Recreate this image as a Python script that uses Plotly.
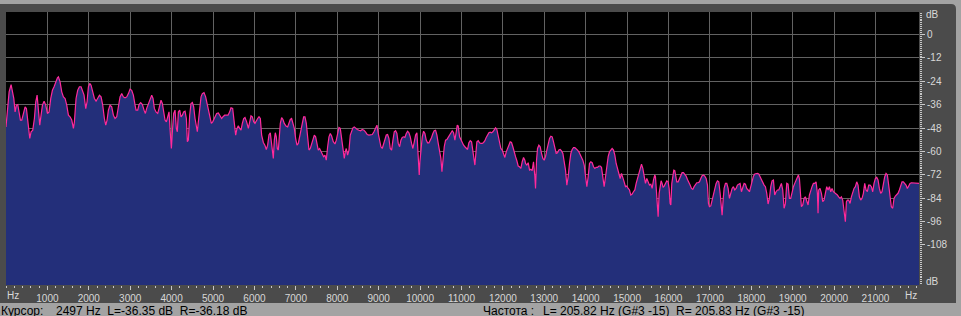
import plotly.graph_objects as go

# ---- data (frequency in Hz, level in dB) ----
FREQ_HZ = [
    0, 43, 75, 123, 155, 188, 220, 252, 284, 316, 348, 381, 421, 461, 493, 526, 558, 574, 606, 646,
    686, 719, 751, 783, 815, 847, 880, 920, 960, 1000, 1040, 1081, 1121, 1161, 1201, 1242, 1266, 1306, 1346, 1387,
    1427, 1467, 1507, 1547, 1588, 1628, 1652, 1692, 1732, 1773, 1813, 1853, 1885, 1926, 1958, 1990, 2022, 2054, 2095, 2135,
    2175, 2215, 2256, 2296, 2336, 2376, 2409, 2441, 2473, 2513, 2553, 2594, 2634, 2674, 2714, 2754, 2795, 2835, 2875, 2915,
    2956, 2996, 3036, 3076, 3117,
    3141, 3181, 3213, 3253, 3294, 3334, 3366, 3398, 3438, 3479, 3519, 3551, 3583, 3623, 3664, 3696, 3744, 3776, 3800, 3841,
    3873, 3905, 3937, 3969, 3994, 4018, 4050, 4082, 4114, 4138, 4163, 4195, 4227, 4259, 4291, 4324, 4356, 4380, 4404, 4436,
    4468, 4501, 4533, 4565, 4597, 4621, 4645, 4678, 4710, 4742, 4782, 4822, 4855, 4887, 4927, 4959, 4991, 5024, 5056, 5088,
    5128, 5169, 5209, 5241, 5281, 5321, 5362, 5402, 5434, 5474, 5515, 5547, 5579, 5611, 5643, 5676, 5708, 5740, 5772, 5812,
    5853, 5885, 5917, 5949, 5981, 6013, 6046, 6078, 6110, 6142, 6174, 6215, 6255,
    6287, 6319, 6351, 6383, 6408, 6432, 6456, 6480, 6504, 6528, 6552, 6577, 6601, 6625, 6657, 6689, 6721, 6762, 6802, 6834,
    6866, 6898, 6931, 6963, 6995, 7027, 7059, 7092, 7124, 7156, 7188, 7220, 7253, 7285, 7317, 7349, 7381, 7414, 7446, 7478,
    7510, 7542, 7574, 7607, 7639, 7671, 7703, 7735, 7768, 7800, 7832, 7864, 7904, 7945, 7977, 8009, 8041, 8073, 8105, 8138,
    8170, 8194, 8218, 8250, 8283, 8315, 8347, 8379, 8411, 8444, 8484, 8524, 8564, 8604, 8645, 8685, 8725, 8765, 8806, 8846,
    8886, 8926, 8959, 8991, 9023, 9055, 9087, 9119, 9152, 9184, 9216, 9248, 9280, 9313, 9345, 9377,
    9409, 9441, 9473, 9506, 9538, 9570, 9602, 9634, 9667, 9699, 9731, 9763, 9795, 9827, 9860, 9892, 9924, 9948, 9964, 9980,
    9996, 10021, 10053, 10085, 10117, 10149, 10182, 10214, 10246, 10278, 10310, 10342, 10375, 10407, 10439, 10471, 10503, 10528, 10552, 10584,
    10616, 10648, 10680, 10713, 10745, 10777, 10809, 10841, 10874, 10898, 10922, 10954, 10986, 11018, 11051, 11083, 11115, 11147, 11179, 11212,
    11244, 11276, 11300, 11324, 11348, 11372, 11405, 11437, 11469, 11501, 11533, 11566, 11598, 11630, 11662, 11694, 11726, 11759, 11791, 11823,
    11855, 11887, 11920, 11952, 11984, 12016, 12048, 12081, 12113, 12145, 12177, 12209, 12241, 12274, 12306, 12338, 12370, 12402, 12435, 12467,
    12499, 12531,
    12547, 12579, 12612, 12644, 12676, 12708, 12740, 12773, 12789, 12813, 12837, 12869, 12901, 12933, 12966, 12998, 13030, 13062, 13094, 13127,
    13159, 13191, 13223, 13255, 13288, 13320, 13352, 13384, 13416, 13449, 13481, 13513, 13545, 13577, 13609, 13642, 13674, 13706, 13738, 13770,
    13803, 13835, 13867, 13899, 13931, 13964, 13996, 14028, 14060, 14092, 14124, 14157, 14189, 14221, 14253, 14285, 14318, 14350, 14382, 14414,
    14446, 14479, 14511, 14543, 14575, 14607, 14639, 14672, 14704, 14736, 14768, 14800, 14833, 14865, 14897, 14929, 14961, 14994, 15026, 15058,
    15090, 15122, 15154, 15187, 15219, 15251, 15283, 15315, 15348, 15380, 15412, 15444, 15476, 15508, 15541, 15573, 15605, 15637, 15669,
    15685, 15710, 15734, 15750, 15774, 15798, 15822, 15846, 15870, 15895, 15927, 15959, 15991, 16015, 16039, 16056, 16080, 16104, 16128, 16152,
    16176, 16200, 16233, 16265, 16297, 16329, 16361, 16394, 16426, 16458, 16490, 16522, 16555, 16587, 16619, 16651, 16683, 16715, 16748, 16780,
    16812, 16844, 16876, 16909, 16941, 16965, 16989, 17021, 17053, 17086, 17118, 17150, 17182, 17214, 17247, 17271, 17295, 17319, 17343, 17375,
    17408, 17440, 17472, 17504, 17536, 17568, 17601, 17633, 17665, 17697, 17729, 17762, 17794, 17826, 17858, 17890, 17923, 17955, 17987, 18019,
    18051, 18084, 18116, 18148, 18180, 18212, 18244, 18277, 18309, 18341, 18373, 18405, 18437, 18470, 18502, 18534, 18566, 18598, 18631, 18663,
    18695, 18727, 18759, 18792, 18824, 18856, 18888, 18920,
    18952, 18985, 19017, 19049, 19081, 19113, 19137, 19162, 19186, 19210, 19242, 19274, 19306, 19339, 19371, 19403, 19435, 19467, 19500, 19532,
    19564, 19596, 19612, 19628, 19660, 19693, 19725, 19757, 19789, 19821, 19854, 19886, 19918, 19950, 19982, 20015, 20047, 20079, 20111, 20143,
    20175, 20208, 20232, 20256, 20272, 20296, 20320, 20353, 20385, 20417, 20449, 20481, 20513, 20546, 20578, 20610, 20642, 20674, 20707, 20739,
    20771, 20803, 20835, 20868, 20900, 20932, 20964, 20996, 21028, 21061, 21093, 21125, 21157, 21189, 21222, 21254, 21286, 21318, 21350, 21382,
    21415, 21447, 21479, 21511, 21543, 21576, 21608, 21640, 21672, 21704, 21737, 21769, 21801, 21833, 21865, 21898, 21930, 21962, 21994, 22026,
    22050,
]

LEVEL_DB = [
    -47.4, -37.1, -29.4, -25.7, -28.6, -32.8, -39.7, -36.2, -35.9, -40.5, -43.9, -43.9, -39.7, -37.1, -38.0, -43.1, -49.9, -53.3, -49.9, -49.1,
    -43.1, -34.5, -31.1, -37.1, -46.5, -41.4, -36.2, -34.2, -36.2, -40.5, -39.7, -32.8, -28.6, -26.8, -24.3, -22.2, -21.7, -24.3, -29.4, -32.0,
    -32.8, -36.2, -41.4, -42.2, -43.9, -48.2, -44.8, -32.8, -28.6, -26.8, -26.8, -29.4, -31.1, -38.0, -34.5, -26.8, -25.1, -26.0, -29.4, -32.8,
    -34.2, -32.8, -31.1, -32.0, -36.2, -43.1, -46.5, -43.9, -38.8, -36.2, -37.1, -41.4, -43.1, -42.2, -37.1, -32.0, -30.3, -32.0, -32.5, -32.0,
    -30.3, -28.0, -28.6, -31.1, -36.2,
    -38.8, -38.8, -35.9, -34.9, -35.9, -38.8, -40.5, -37.9, -35.4, -32.5, -31.1, -32.8, -37.9, -39.7, -40.5, -37.9, -33.7, -35.4, -38.8, -43.9,
    -44.8, -42.2, -39.7, -50.8, -58.5, -49.9, -40.5, -38.8, -48.2, -49.9, -39.7, -38.8, -42.2, -41.4, -39.7, -39.3, -43.1, -55.0, -54.2, -41.4,
    -35.4, -34.9, -37.1, -43.1, -46.5, -49.9, -44.8, -39.7, -32.0, -30.3, -29.8, -32.0, -35.4, -39.7, -43.9, -45.6, -44.8, -43.1, -41.4, -40.5,
    -40.2, -41.4, -43.1, -42.2, -41.4, -41.4, -41.4, -39.7, -37.6, -37.9, -45.6, -51.6, -48.2, -46.8, -48.2, -49.1, -45.6, -43.1, -42.6, -44.8,
    -48.2, -43.9, -41.7, -42.2, -44.8, -45.6, -43.9, -43.1, -42.2, -43.1, -51.6, -55.4, -57.0,
    -59.0, -56.8, -51.6, -50.4, -54.2, -60.2, -63.6, -54.2, -50.4, -52.5, -58.5, -59.3, -52.5, -45.6, -42.6, -43.6, -45.6, -47.0, -47.4, -45.6,
    -43.6, -43.1, -45.3, -48.2, -53.3, -56.8, -55.9, -52.5, -49.1, -45.3, -42.2, -42.2, -45.6, -52.5, -59.3, -58.5, -55.9, -53.3, -51.6, -52.5,
    -55.9, -59.3, -58.5, -60.2, -61.0, -62.7, -61.9, -64.5, -57.6, -52.5, -50.8, -52.1, -55.0, -56.2, -54.2, -51.6, -47.7, -48.2, -52.5, -58.5,
    -63.6, -60.2, -58.5, -61.9, -59.3, -51.6, -49.1, -47.9, -47.4, -48.2, -48.7, -49.1, -49.4, -48.7, -49.1, -50.1, -51.3, -51.6, -51.6, -51.3,
    -49.9, -47.4, -46.5, -50.8, -54.2, -57.6, -58.5, -55.9, -53.3, -51.6, -51.3, -53.3, -58.5, -59.3, -54.2, -49.9,
    -49.4, -50.8, -55.9, -57.6, -54.2, -52.8, -52.5, -52.8, -50.8, -49.6, -50.4, -52.5, -55.9, -58.5, -55.1, -51.6, -50.4, -59.3, -66.2, -72.1,
    -65.3, -57.6, -52.5, -49.6, -50.8, -54.2, -55.6, -55.6, -54.5, -52.8, -50.8, -49.4, -49.1, -51.6, -55.9, -59.3, -63.6, -70.4, -63.6, -57.6,
    -54.2, -53.9, -52.8, -51.6, -51.1, -49.4, -50.4, -54.2, -49.9, -46.5, -47.0, -52.5, -53.9, -55.9, -56.8, -57.6, -58.5, -59.0, -55.6, -54.5,
    -55.1, -59.3, -63.6, -67.0, -61.0, -55.1, -54.5, -55.6, -55.9, -55.9, -55.4, -54.5, -52.8, -51.1, -50.4, -50.1, -50.4, -49.9, -49.1, -47.9,
    -48.7, -52.5, -55.9, -58.5, -59.3, -61.4, -63.1, -60.2, -57.9, -56.8, -55.1, -55.4, -57.6, -61.0, -62.7, -64.8, -67.5, -67.9, -68.7, -65.3,
    -63.1, -64.5,
    -66.2, -67.0, -65.8, -69.6, -69.2, -69.9, -65.3, -73.0, -79.0, -64.5, -58.5, -56.8, -57.6, -61.0, -63.6, -64.5, -62.7, -59.3, -55.9, -53.3,
    -52.2, -52.5, -55.1, -58.5, -61.0, -60.7, -59.3, -59.0, -59.7, -61.0, -64.5, -69.6, -77.3, -73.0, -66.2, -61.0, -59.0, -58.0, -58.0, -58.5,
    -59.3, -60.2, -61.4, -62.7, -64.5, -67.0, -72.1, -78.1, -73.0, -66.2, -65.3, -65.8, -67.9, -68.7, -68.2, -68.2, -67.5, -67.5, -68.2, -73.0,
    -78.1, -73.0, -67.0, -62.7, -60.2, -59.0, -58.5, -59.3, -61.9, -66.2, -68.7, -70.4, -73.9, -71.3, -73.0, -75.6, -78.1, -77.8, -79.0, -79.8,
    -82.4, -81.9, -80.7, -79.8, -76.4, -73.9, -70.4, -67.9, -66.5, -68.7, -73.0, -76.4, -73.9, -75.6, -77.3, -76.8, -79.0, -74.7, -72.1,
    -73.0, -79.8, -89.2, -93.5, -81.5, -76.4, -75.1, -76.4, -78.5, -77.8, -76.4, -75.1, -75.6, -79.0, -86.7, -87.5, -76.4, -71.3, -69.6, -69.9,
    -72.1, -75.6, -75.6, -73.9, -72.1, -70.9, -70.9, -71.6, -72.7, -74.4, -75.6, -77.3, -79.0, -79.5, -78.1, -76.8, -76.1, -76.1, -75.6, -73.9,
    -72.5, -72.1, -72.7, -73.9, -77.3, -86.7, -88.4, -88.0, -85.0, -83.3, -79.8, -76.4, -75.1, -75.6, -81.5, -89.2, -92.7, -85.0, -79.0, -76.4,
    -76.4, -79.0, -84.1, -81.5, -79.0, -78.1, -79.8, -79.0, -77.3, -76.8, -76.4, -80.7, -78.1, -76.4, -76.8, -79.0, -79.8, -80.7, -78.1, -74.7,
    -72.7, -71.6, -71.3, -71.3, -71.6, -73.0, -74.7, -76.4, -77.3, -78.1, -81.5, -87.0, -84.1, -78.1, -75.1, -74.7, -82.4, -80.7, -79.8, -79.8,
    -78.1, -76.4, -79.8, -89.2, -86.7, -76.4, -76.8, -84.1,
    -84.1, -80.7, -78.1, -76.4, -74.7, -72.7, -72.1, -73.9, -79.8, -88.4, -87.5, -84.1, -83.3, -85.8, -87.5, -82.4, -79.8, -78.1, -76.4, -76.4,
    -75.6, -81.5, -91.8, -79.8, -79.0, -81.5, -85.8, -85.0, -81.5, -78.1, -79.8, -78.1, -80.7, -79.0, -80.7, -81.2, -81.5, -82.4, -83.3, -84.1,
    -83.3, -85.0, -89.2, -92.7, -96.1, -85.8, -85.0, -85.0, -86.7, -83.3, -80.7, -79.0, -78.1, -75.6, -77.3, -83.3, -85.0, -84.1, -81.5, -76.4,
    -79.8, -80.7, -77.3, -77.3, -78.1, -80.7, -76.4, -73.9, -73.3, -74.7, -79.0, -81.5, -80.7, -76.4, -73.0, -71.3, -72.1, -77.3, -84.1, -88.4,
    -89.2, -84.1, -82.9, -82.4, -81.5, -79.8, -77.3, -75.6, -75.6, -76.4, -77.3, -79.0, -77.8, -76.4, -76.1, -76.1, -76.4, -76.1, -76.1, -76.4,
    -76.4,
]

X_TICKS = [1000 * k for k in range(1, 22)]
X_TICK_LABELS = [str(v) for v in X_TICKS]
Y_TICKS = [0, -12, -24, -36, -48, -60, -72, -84, -96, -108]
Y_TICK_LABELS = ["0", "-12", "-24", "-36", "-48", "-60", "-72", "-84", "-96", "-108"]
F_MAX = 22050
Y_MIN, Y_MAX = -128.6, 11.6

CURSOR_LABEL = "Курсор:"
CURSOR_TEXT = "2497 Hz\u00a0\u00a0L=-36.35 dB\u00a0\u00a0R=-36.18 dB"
FREQ_LABEL = "Частота :"
FREQ_TEXT = "L= 205.82 Hz (G#3 -15)\u00a0\u00a0R= 205.83 Hz (G#3 -15)"

# ---- page geometry ----
W, H = 961, 316
ML, MR, MT, MB = 6, 42, 12, 31
PW = W - ML - MR
PH = H - MT - MB


def px(x):
    return (x - ML) / PW


def py(y):
    return (H - MB - y) / PH


FRAME = "#4b4b4b"
LIGHT = "#a3a3a3"
GRID = "#626262"
TICKC = "#c8c8c8"
LABELC = "#d8d8d8"
FONT = "Liberation Sans, Arial, sans-serif"

fig = go.Figure()
fig.add_trace(go.Scatter(
    x=[0, F_MAX], y=[Y_MIN, Y_MIN], mode="lines",
    line=dict(width=0, color="#23307a"), hoverinfo="skip", showlegend=False))
fig.add_trace(go.Scatter(
    x=FREQ_HZ, y=LEVEL_DB, mode="lines", fill="tonexty", fillcolor="#232f7a",
    line=dict(color="#ff2a9c", width=1.2), hoverinfo="skip", showlegend=False))

shapes = [
    dict(type="rect", xref="paper", yref="paper", x0=px(0), x1=px(W), y0=py(0), y1=py(4),
         fillcolor=LIGHT, line=dict(width=0), layer="below"),
    dict(type="rect", xref="paper", yref="paper", x0=px(956), x1=px(W), y0=py(0), y1=py(H),
         fillcolor=LIGHT, line=dict(width=0), layer="below"),
    dict(type="rect", xref="paper", yref="paper", x0=px(0), x1=px(W), y0=py(303), y1=py(H),
         fillcolor=LIGHT, line=dict(width=0), layer="below"),
    dict(type="path", xref="paper", yref="paper",
         path=f"M {px(951)},{py(4)} Q {px(956)},{py(4)} {px(956)},{py(9)} L {px(956)},{py(4)} Z",
         fillcolor=LIGHT, line=dict(width=0), layer="below"),
]

ann = []
def label(text, x, y, xanchor="center", yanchor="middle", size=10, color=LABELC):
    ann.append(dict(text=text, x=px(x), y=py(y), xref="paper", yref="paper", showarrow=False,
                    xanchor=xanchor, yanchor=yanchor, font=dict(family=FONT, size=size, color=color)))

label("Hz", 13, 295)
label("Hz", 911, 295)
label("dB", 932, 15)
label("dB", 932, 281)
label(CURSOR_LABEL, -1, 302, xanchor="left", yanchor="top", size=12, color="#000000")
label(CURSOR_TEXT, 54, 302, xanchor="left", yanchor="top", size=12, color="#000000")
label(FREQ_LABEL, 481, 302, xanchor="left", yanchor="top", size=12, color="#000000")
label(FREQ_TEXT, 541, 302, xanchor="left", yanchor="top", size=12, color="#000000")

fig.update_layout(
    width=W, height=H,
    margin=dict(l=ML, r=MR, t=MT, b=MB, pad=0),
    paper_bgcolor=FRAME, plot_bgcolor="#000000",
    showlegend=False,
    shapes=shapes, annotations=ann,
    xaxis=dict(
        range=[0, F_MAX], tickmode="array", tickvals=X_TICKS, ticktext=X_TICK_LABELS,
        showgrid=True, gridcolor=GRID, gridwidth=1, zeroline=False, showline=False,
        ticks="outside", ticklen=4, tickwidth=1, tickcolor=TICKC,
        tickfont=dict(family=FONT, size=10, color=LABELC),
        minor=dict(tickmode="array", tickvals=list(range(0, F_MAX, 200)),
                   ticks="outside", ticklen=2, tickwidth=1, tickcolor=TICKC, showgrid=False),
        fixedrange=True,
    ),
    yaxis=dict(
        side="right", range=[Y_MIN, Y_MAX], tickmode="array", tickvals=Y_TICKS, ticktext=Y_TICK_LABELS,
        showgrid=True, gridcolor=GRID, gridwidth=1, zeroline=False, showline=False,
        ticks="outside", ticklen=5, tickwidth=1, tickcolor=TICKC,
        tickfont=dict(family=FONT, size=10, color=LABELC),
        minor=dict(tickmode="array", tickvals=list(range(-128, 12, 1)),
                   ticks="outside", ticklen=2, tickwidth=1, tickcolor=TICKC, showgrid=False),
        fixedrange=True,
    ),
)

fig.write_html("out.html", config={"displayModeBar": False})
